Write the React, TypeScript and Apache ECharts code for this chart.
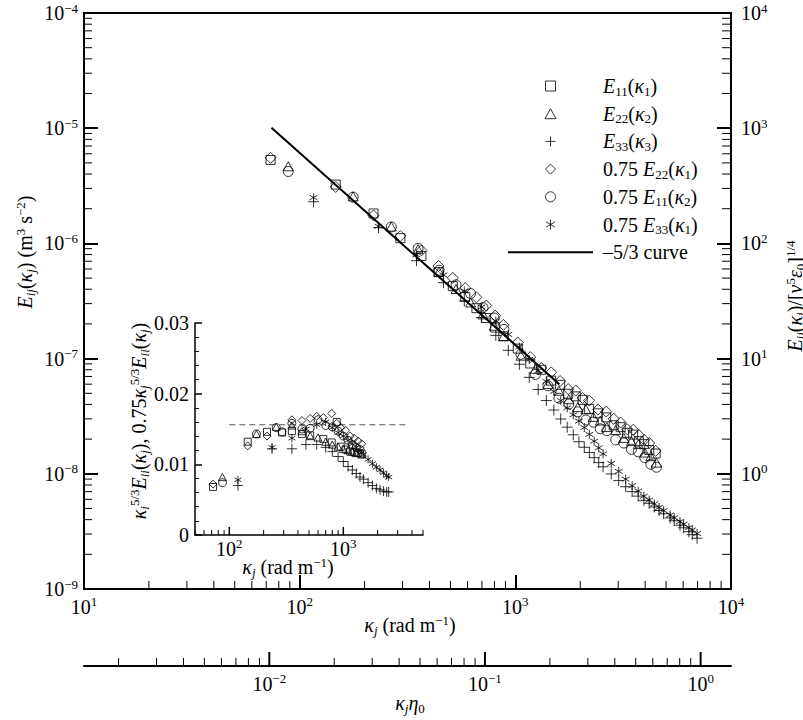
import React, { useEffect, useRef } from 'react';
import * as echarts from 'echarts';

const SERIF = 'Liberation Serif, Times New Roman, serif';

// ---------- main plot: wavenumber grids (rad m^-1) ----------
const kappa1 = [73.3, 147, 220, 293, 367, 440, 513, 586, 660, 733, 806, 880, 1026, 1173, 1319, 1466, 1613, 1759, 1906, 2052, 2199, 2419, 2639, 2859, 3079, 3299, 3518, 3738, 3958, 4178, 4471];
const kappa2 = [88.5, 177, 266, 354, 443, 531, 620, 708, 797, 885, 1062, 1239, 1416, 1593, 1770, 1947, 2124, 2301, 2478, 2655, 2921, 3186, 3452, 3717, 3983, 4248, 4514];
const kappa3 = [116, 232, 348, 464, 580, 696, 812, 928, 1044, 1160, 1276, 1392, 1508, 1624, 1740, 1856, 1972, 2088, 2204, 2320, 2436, 2552, 2784, 3016, 3248, 3480, 3712, 3944, 4176, 4408, 4640, 4872, 5220, 5452, 5800, 6032, 6380, 6612, 6960];

// ---------- main plot: spectra E_ij (m^3 s^-2) ----------
const E11k1 = [5.30e-6, 3.24e-6, 1.82e-6, 1.11e-6, 7.78e-7, 5.63e-7, 4.26e-7, 3.43e-7, 2.74e-7, 2.25e-7, 1.86e-7, 1.56e-7, 1.22e-7, 9.07e-8, 8.00e-8, 6.44e-8, 5.92e-8, 4.95e-8, 4.70e-8, 4.38e-8, 3.66e-8, 3.35e-8, 3.09e-8, 2.64e-8, 2.54e-8, 2.27e-8, 2.19e-8, 1.92e-8, 1.81e-8, 1.61e-8, 1.50e-8];
const E22k2 = [4.67e-6, 2.56e-6, 1.40e-6, 8.92e-7, 5.68e-7, 4.02e-7, 3.07e-7, 2.42e-7, 1.93e-7, 1.57e-7, 1.06e-7, 8.15e-8, 6.01e-8, 5.26e-8, 4.44e-8, 3.79e-8, 3.63e-8, 3.12e-8, 2.90e-8, 2.55e-8, 2.40e-8, 2.05e-8, 1.92e-8, 1.81e-8, 1.53e-8, 1.42e-8, 1.25e-8];
const E33k3 = [2.30e-6, 1.37e-6, 7.08e-7, 4.56e-7, 3.17e-7, 2.27e-7, 1.59e-7, 1.18e-7, 8.93e-8, 6.87e-8, 5.39e-8, 4.32e-8, 3.58e-8, 2.99e-8, 2.54e-8, 2.18e-8, 1.90e-8, 1.70e-8, 1.53e-8, 1.38e-8, 1.25e-8, 1.15e-8, 9.98e-9, 8.73e-9, 7.72e-9, 7.01e-9, 6.40e-9, 5.88e-9, 5.54e-9, 5.15e-9, 4.80e-9, 4.50e-9, 4.14e-9, 3.91e-9, 3.58e-9, 3.40e-9, 3.14e-9, 2.96e-9, 2.76e-9];
const E22k1x075 = [5.53e-6, 3.09e-6, 1.75e-6, 1.16e-6, 8.69e-7, 6.37e-7, 5.02e-7, 4.09e-7, 3.40e-7, 2.89e-7, 2.36e-7, 1.96e-7, 1.38e-7, 1.03e-7, 8.29e-8, 7.59e-8, 6.39e-8, 5.44e-8, 5.28e-8, 4.54e-8, 4.32e-8, 3.61e-8, 3.47e-8, 3.00e-8, 2.79e-8, 2.44e-8, 2.41e-8, 2.17e-8, 1.97e-8, 1.85e-8, 1.58e-8];
const E11k2x075 = [4.21e-6, 2.52e-6, 1.39e-6, 9.03e-7, 5.84e-7, 4.37e-7, 3.67e-7, 2.77e-7, 2.25e-7, 1.79e-7, 1.09e-7, 7.29e-8, 5.81e-8, 4.53e-8, 4.03e-8, 3.45e-8, 2.93e-8, 2.81e-8, 2.46e-8, 2.37e-8, 1.97e-8, 1.85e-8, 1.63e-8, 1.55e-8, 1.38e-8, 1.21e-8, 1.14e-8];
const E33k1x075 = [2.50e-6, 1.41e-6, 7.95e-7, 5.32e-7, 3.87e-7, 2.80e-7, 2.12e-7, 1.62e-7, 1.26e-7, 9.84e-8, 7.86e-8, 6.34e-8, 5.19e-8, 4.32e-8, 3.74e-8, 3.25e-8, 2.87e-8, 2.52e-8, 2.20e-8, 1.92e-8, 1.68e-8, 1.49e-8, 1.23e-8, 1.05e-8, 8.98e-9, 7.88e-9, 7.08e-9, 6.39e-9, 5.91e-9, 5.48e-9, 5.11e-9, 4.79e-9, 4.39e-9, 4.15e-9, 3.85e-9, 3.65e-9, 3.42e-9, 3.26e-9, 3.03e-9];

// -5/3 reference curve (end points)
const curveK = [74, 1600];
const curveE = [1.01e-5, 6.0e-8];

// ---------- inset: compensated spectra ----------
const insetK11 = [72, 145, 214, 290, 354, 433, 512, 668, 791, 875, 950, 1050, 1150, 1250, 1350, 1450];
const insetC11 = [0.0068, 0.0132, 0.0146, 0.0145, 0.0147, 0.0143, 0.0141, 0.0136, 0.0131, 0.0160, 0.0125, 0.0121, 0.0118, 0.0117, 0.0116, 0.0115];
const insetK22 = [87, 173, 258, 354, 433, 512, 600, 700, 800, 900, 1000, 1100, 1200, 1300, 1450];
const insetC22 = [0.0082, 0.0143, 0.0153, 0.0155, 0.0147, 0.0140, 0.0138, 0.0132, 0.0128, 0.0125, 0.0122, 0.0120, 0.0118, 0.0116, 0.0114];
const insetK33 = [119, 237, 354, 470, 584, 700, 800, 900, 1000, 1100, 1200, 1300, 1400, 1500, 1650, 1800, 1950, 2100, 2250, 2400, 2500];
const insetC33 = [0.0070, 0.0122, 0.0122, 0.0128, 0.0128, 0.0124, 0.0118, 0.0111, 0.0104, 0.0097, 0.0092, 0.0087, 0.0082, 0.0079, 0.0074, 0.0070, 0.0066, 0.0064, 0.0062, 0.0061, 0.0061];
const insetK22k1 = [72, 145, 214, 354, 433, 512, 584, 668, 791, 875, 950, 1050, 1150, 1250, 1350, 1450];
const insetC22k1 = [0.0072, 0.0126, 0.0140, 0.0163, 0.0162, 0.0165, 0.0168, 0.0166, 0.0172, 0.0158, 0.0152, 0.0148, 0.0140, 0.0137, 0.0133, 0.0129];
const insetK11k2 = [87, 173, 258, 290, 354, 433, 512, 600, 700, 800, 900, 1000, 1100, 1200, 1300, 1400];
const insetC11k2 = [0.0074, 0.0143, 0.0152, 0.0146, 0.0158, 0.0150, 0.0151, 0.0163, 0.0155, 0.0153, 0.0147, 0.0140, 0.0134, 0.0128, 0.0124, 0.0121];
const insetK33k1 = [119, 237, 354, 470, 584, 700, 800, 900, 1000, 1100, 1200, 1300, 1400, 1500, 1650, 1800, 1950, 2100, 2250, 2400, 2500];
const insetC33k1 = [0.0078, 0.0124, 0.0137, 0.0150, 0.0156, 0.0160, 0.0152, 0.0145, 0.0140, 0.0134, 0.0129, 0.0124, 0.0119, 0.0114, 0.0107, 0.0101, 0.0096, 0.0092, 0.0088, 0.0084, 0.0082];
const dashK = [100, 3600];
const dashC = [0.0156, 0.0156];

// ---------- axis ranges ----------
const mainXRange = [10, 10000];
const mainYRange = [1e-9, 1e-4];
const rightYRange = [0.1, 10000];
const etaXRange = [0.001383, 1.383];
const insetXRange = [50, 5000];
const insetYRange = [0, 0.03];
const insetYTickLabels = ['0', '0.01', '0.02', '0.03'];

const zip = (a: number[], b: number[]) => a.map((v, i) => [v, b[i]]);

const tok = (size: number, italic: boolean, extra: any = {}) => ({
  fontSize: size, fontFamily: SERIF, fontStyle: italic ? 'italic' : 'normal', color: '#000', fill: '#000', ...extra,
});
const RICH: any = {
  b: tok(20, false),
  i: tok(20, true),
  sup: tok(13, false, { padding: [0, 0, 10, 0] }),
  sub: tok(13, false, { padding: [10, 0, 0, 0] }),
  isub: tok(13, true, { padding: [10, 0, 0, 0] }),
};
const LEG_RICH: any = {
  b: tok(20, false),
  i: tok(20, true),
  sub: tok(13, false, { padding: [10, 0, 0, 0] }),
  sp: tok(20, false, { width: 5 }),
};

const pow10 = (v: number) => {
  const e = Math.log10(v);
  const r = Math.round(e);
  if (Math.abs(e - r) > 1e-6) return '';
  return `{b|10}{sup|${r < 0 ? '−' : ''}${Math.abs(r)}}`;
};

const decadeTicks = (lo: number, hi: number) => {
  const out: [number, boolean][] = [];
  for (let e = Math.floor(Math.log10(lo)); e <= Math.ceil(Math.log10(hi)); e++) {
    for (let d = 1; d <= 9; d++) {
      const v = d * Math.pow(10, e);
      if (v >= lo * 0.9999 && v <= hi * 1.0001) out.push([v, d === 1]);
    }
  }
  return out;
};

const tickSeries = (xAxisIndex: number, yAxisIndex: number, data: number[][], dir: string) => ({
  type: 'custom',
  xAxisIndex,
  yAxisIndex,
  silent: true,
  clip: false,
  z: 10,
  data,
  renderItem: (_p: any, api: any) => {
    const p = api.coord([api.value(0), api.value(1)]);
    const len = api.value(2);
    let x2 = p[0];
    let y2 = p[1];
    if (dir === 'up') y2 -= len;
    else if (dir === 'right') x2 += len;
    else x2 -= len;
    return { type: 'line', shape: { x1: p[0], y1: p[1], x2, y2 }, style: { stroke: '#000', lineWidth: api.value(3) } };
  },
});

const hollow = { color: 'rgba(0,0,0,0)', borderColor: '#000', borderWidth: 1 };
const SQUARE = 'path://M0,0L10,0L10,10L0,10Z';
const TRIANGLE = 'path://M5,0L10,9L0,9Z';
const DIAMOND = 'path://M5,0L10,5L5,10L0,5Z';
const PLUS = 'path://M5,0L5,10M0,5L10,5';
const STAR = 'path://M5,0L5,10M0.67,2.5L9.33,7.5M0.67,7.5L9.33,2.5';

const NAMES = ['E11(κ1)', 'E22(κ2)', 'E33(κ3)', '0.75 E22(κ1)', '0.75 E11(κ2)', '0.75 E33(κ1)', '–5/3 curve'];
const LEGEND_TXT: Record<string, string> = {
  'E11(κ1)': '{sp| }{i|E}{sub|11}{b|(}{i|κ}{sub|1}{b|)}',
  'E22(κ2)': '{sp| }{i|E}{sub|22}{b|(}{i|κ}{sub|2}{b|)}',
  'E33(κ3)': '{sp| }{i|E}{sub|33}{b|(}{i|κ}{sub|3}{b|)}',
  '0.75 E22(κ1)': '{sp| }{b|0.75 }{i|E}{sub|22}{b|(}{i|κ}{sub|1}{b|)}',
  '0.75 E11(κ2)': '{sp| }{b|0.75 }{i|E}{sub|11}{b|(}{i|κ}{sub|2}{b|)}',
  '0.75 E33(κ1)': '{sp| }{b|0.75 }{i|E}{sub|33}{b|(}{i|κ}{sub|1}{b|)}',
  '–5/3 curve': '{sp| }{b|–5/3 curve}{sub| }',
};

const mainScatter = (name: string, k: number[], e: number[], symbol: string, size: number) => ({
  type: 'scatter', name, xAxisIndex: 0, yAxisIndex: 0, data: zip(k, e), symbol, symbolSize: size, symbolKeepAspect: true, itemStyle: hollow, z: 3,
});
const insetScatter = (name: string, k: number[], c: number[], symbol: string, size: number) => ({
  type: 'scatter', name, xAxisIndex: 2, yAxisIndex: 3, data: zip(k, c), symbol, symbolSize: size, symbolKeepAspect: true, itemStyle: hollow, z: 3,
});

const gtext = (x: number, y: number, text: string, rot = 0) => ({
  type: 'text', x, y, rotation: rot, z: 20,
  style: { text, rich: RICH, align: 'center', verticalAlign: 'middle', fill: '#000', fontFamily: SERIF, fontSize: 20 },
});

export default function App() {
  const ref = useRef<HTMLDivElement>(null);
  useEffect(() => {
    if (!ref.current) return;
    const chart = echarts.init(ref.current, undefined, { renderer: 'svg' });

    const majorTick = { show: true, inside: true, length: 14, lineStyle: { color: '#000', width: 2 } };
    const mainXMinor = decadeTicks(mainXRange[0], mainXRange[1]).filter((t) => !t[1]).map((t) => [t[0], mainYRange[0], 8, 1]);
    const mainYMinor = decadeTicks(mainYRange[0], mainYRange[1]).filter((t) => !t[1]).map((t) => [mainXRange[0], t[0], 8, 1]);
    const rightYMinor = decadeTicks(rightYRange[0], rightYRange[1]).filter((t) => !t[1]).map((t) => [mainXRange[1], t[0], 9, 1]);
    const etaTicks = decadeTicks(etaXRange[0], etaXRange[1]).map((t) => [t[0], 0, t[1] ? 14 : 8, t[1] ? 2 : 1]);
    const insetXTicks = decadeTicks(insetXRange[0], insetXRange[1]).map((t) => [t[0], 0, t[1] ? 8 : 5, t[1] ? 1.5 : 1]);

    const legendData = NAMES.map((n) =>
      n === '–5/3 curve'
        ? { name: n, itemStyle: { color: 'rgba(0,0,0,0)', borderColor: 'rgba(0,0,0,0)', borderWidth: 0 } }
        : { name: n }
    );

    const option: any = {
      animation: false,
      backgroundColor: '#fff',
      textStyle: { fontFamily: SERIF, color: '#000' },
      grid: [
        { left: 84, top: 13, width: 647, height: 576, show: true, borderColor: '#000', borderWidth: 2, backgroundColor: 'rgba(0,0,0,0)' },
        { left: 84, top: 664, width: 647, height: 2 },
        { left: 195, top: 323, width: 228, height: 212 },
      ],
      xAxis: [
        {
          gridIndex: 0, type: 'log', logBase: 10, min: mainXRange[0], max: mainXRange[1], position: 'bottom',
          axisLine: { show: false }, axisTick: majorTick, splitLine: { show: false },
          axisLabel: { margin: 6, formatter: pow10, rich: RICH, color: '#000' },
        },
        {
          gridIndex: 1, type: 'log', logBase: 10, min: etaXRange[0], max: etaXRange[1], position: 'bottom',
          axisLine: { show: true, lineStyle: { color: '#000', width: 2 } }, axisTick: { show: false }, splitLine: { show: false },
          axisLabel: { margin: 6, formatter: pow10, rich: RICH, color: '#000' },
        },
        {
          gridIndex: 2, type: 'log', logBase: 10, min: insetXRange[0], max: insetXRange[1], position: 'bottom',
          axisLine: { show: true, onZero: false, lineStyle: { color: '#000', width: 1.5 } }, axisTick: { show: false }, splitLine: { show: false },
          axisLabel: { margin: 2, formatter: pow10, rich: RICH, color: '#000' },
        },
      ],
      yAxis: [
        {
          gridIndex: 0, type: 'log', logBase: 10, min: mainYRange[0], max: mainYRange[1], position: 'left',
          axisLine: { show: false }, axisTick: majorTick, splitLine: { show: false },
          axisLabel: { margin: 6, formatter: pow10, rich: RICH, color: '#000' },
        },
        {
          gridIndex: 0, type: 'log', logBase: 10, min: rightYRange[0], max: rightYRange[1], position: 'right',
          axisLine: { show: false }, axisTick: majorTick, splitLine: { show: false },
          axisLabel: { margin: 10, formatter: (v: number) => (v < 0.5 ? '' : pow10(v)), rich: RICH, color: '#000' },
        },
        { gridIndex: 1, type: 'value', min: 0, max: 1, show: false },
        {
          gridIndex: 2, type: 'value', min: insetYRange[0], max: insetYRange[1], interval: 0.01,
          axisLine: { show: true, onZero: false, lineStyle: { color: '#000', width: 1.5 } },
          axisTick: { show: true, inside: true, length: 7, lineStyle: { color: '#000', width: 1.5 } },
          minorTick: { show: true, splitNumber: 5, length: 4, lineStyle: { color: '#000', width: 1 } },
          splitLine: { show: false },
          axisLabel: {
            margin: 6, color: '#000', fontSize: 20, fontFamily: SERIF,
            formatter: (v: number) => insetYTickLabels[Math.round(v / 0.01)] ?? '',
          },
        },
      ],
      legend: {
        data: legendData, orient: 'vertical', left: 502, top: 71, itemWidth: 85, itemHeight: 10, itemGap: 6.2,
        selectedMode: false, symbolKeepAspect: true, formatter: (n: string) => LEGEND_TXT[n] ?? n,
        textStyle: { rich: LEG_RICH, color: '#000' }, itemStyle: { borderWidth: 1 },
      },
      graphic: [
        gtext(25, 252, '{i|E}{isub|ij}{b|(}{i|κ}{isub|j}{b|) (m}{sup|3}{b| s}{sup|−2}{b|)}', Math.PI / 2),
        gtext(795, 296, '{i|E}{isub|ij}{b|(}{i|κ}{isub|j}{b|)/[}{i|ν}{sup|5}{i|ε}{sub|0}{b|]}{sup|1/4}', Math.PI / 2),
        gtext(139, 421, '{i|κ}{isub|i}{sup|5/3}{i|E}{isub|ii}{b|(}{i|κ}{isub|j}{b|), 0.75}{i|κ}{isub|j}{sup|5/3}{i|E}{isub|ii}{b|(}{i|κ}{isub|j}{b|)}', Math.PI / 2),
        gtext(410, 625, '{i|κ}{isub|j}{b| (rad m}{sup|−1}{b|)}'),
        gtext(410, 703, '{i|κ}{isub|j}{i|η}{sub|0}'),
        gtext(288, 567, '{i|κ}{isub|j}{b| (rad m}{sup|−1}{b|)}'),
      ],
      series: [
        mainScatter(NAMES[0], kappa1, E11k1, SQUARE, 9),
        mainScatter(NAMES[1], kappa2, E22k2, TRIANGLE, 10),
        mainScatter(NAMES[2], kappa3, E33k3, PLUS, 11),
        mainScatter(NAMES[3], kappa1, E22k1x075, DIAMOND, 11),
        mainScatter(NAMES[4], kappa2, E11k2x075, 'circle', 10),
        mainScatter(NAMES[5], kappa3, E33k1x075, STAR, 9),
        {
          type: 'line', name: NAMES[6], xAxisIndex: 0, yAxisIndex: 0, data: zip(curveK, curveE),
          symbol: 'none', lineStyle: { color: '#000', width: 2 }, itemStyle: { color: 'rgba(0,0,0,0)' }, z: 4,
        },
        insetScatter('inset E11(κ1)', insetK11, insetC11, SQUARE, 7),
        insetScatter('inset E22(κ2)', insetK22, insetC22, TRIANGLE, 8),
        insetScatter('inset E33(κ3)', insetK33, insetC33, PLUS, 10),
        insetScatter('inset 0.75 E22(κ1)', insetK22k1, insetC22k1, DIAMOND, 8),
        insetScatter('inset 0.75 E11(κ2)', insetK11k2, insetC11k2, 'circle', 8),
        insetScatter('inset 0.75 E33(κ1)', insetK33k1, insetC33k1, STAR, 8),
        {
          type: 'line', name: 'inset dashed', xAxisIndex: 2, yAxisIndex: 3, data: zip(dashK, dashC),
          symbol: 'none', lineStyle: { color: '#555', width: 1.2, type: [6, 4] }, z: 2,
        },
        tickSeries(0, 0, mainXMinor, 'up'),
        tickSeries(0, 0, mainYMinor, 'right'),
        tickSeries(0, 1, rightYMinor, 'left'),
        tickSeries(1, 2, etaTicks, 'up'),
        tickSeries(2, 3, insetXTicks, 'up'),
      ],
    };
    chart.setOption(option);
    return () => chart.dispose();
  }, []);

  return (
    <div
      ref={ref}
      style={{ position: 'absolute', left: 0, top: 0, width: 803, height: 720, background: '#fff' }}
    />
  );
}
